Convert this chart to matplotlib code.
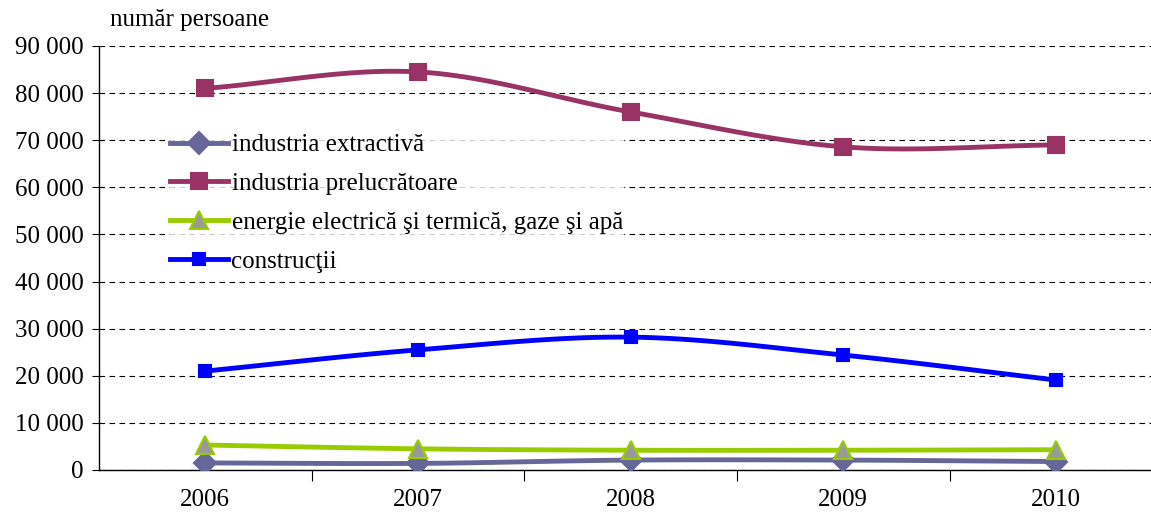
import numpy as np
import matplotlib
matplotlib.use("Agg")
import matplotlib.pyplot as plt
from matplotlib.ticker import FuncFormatter, FixedLocator

plt.rcParams['font.family'] = ['Liberation Serif', 'DejaVu Serif']

years = ['2006', '2007', '2008', '2009', '2010']
extractiva = [1500, 1400, 2100, 2100, 1800]
prelucratoare = [81000, 84500, 76000, 68600, 69000]
energie = [5300, 4500, 4200, 4200, 4300]
constructii = [21000, 25500, 28200, 24400, 19100]

labels = ['industria extractivă', 'industria prelucrătoare',
          'energie electrică şi termică, gaze şi apă', 'construcţii']


def smooth(x, y, n=30):
    # Catmull-Rom style smoothing (like Excel smoothed lines)
    x = np.asarray(x, float); y = np.asarray(y, float)
    px = np.concatenate([[2*x[0]-x[1]], x, [2*x[-1]-x[-2]]])
    py = np.concatenate([[2*y[0]-y[1]], y, [2*y[-1]-y[-2]]])
    xs, ys = [], []
    for i in range(1, len(px)-2):
        t = np.linspace(0, 1, n)
        for arr, out in ((px, xs), (py, ys)):
            p0, p1, p2, p3 = arr[i-1], arr[i], arr[i+1], arr[i+2]
            out.extend(0.5*((2*p1) + (-p0+p2)*t + (2*p0-5*p1+4*p2-p3)*t**2
                            + (-p0+3*p1-3*p2+p3)*t**3))
    return np.array(xs), np.array(ys)


fig = plt.figure(figsize=(11.51, 5.18), dpi=100)
ax = fig.add_axes([99/1151, 1-470/518, 1-99/1151, (470-46)/518])

x = np.arange(len(years))
series = [
    (extractiva, '#666699', 'D', '#666699', '#666699', 11),
    (prelucratoare, '#993366', 's', '#993366', '#993366', 12),
    (energie, '#99CC00', '^', '#999999', '#99CC00', 13),
    (constructii, '#0000FF', 's', '#0000FF', '#0000FF', 9),
]
for (vals, col, mk, mfc, mec, ms), lab in zip(series, labels):
    sx, sy = smooth(x, vals)
    ax.plot(sx, sy, color=col, lw=3.5, zorder=3, solid_capstyle='round')
    ax.plot(x, vals, ls='none', marker=mk, ms=ms, mfc=mfc, mec=mec, mew=1.5, zorder=4)
    ax.plot([], [], color=col, lw=3.5, marker=mk, ms=ms, mfc=mfc, mec=mec, mew=1.5, label=lab)

ax.set_xlim(-0.5, (1151-206)/212.5)
ax.set_ylim(0, 90000)
ax.set_yticks(np.arange(0, 90001, 10000))
ax.yaxis.set_major_formatter(FuncFormatter(lambda v, p: f"{int(v):,}".replace(',', ' ')))
ax.grid(axis='y', color='black', ls=(0, (5, 4)), lw=0.8, zorder=1)

ax.xaxis.set_major_locator(FixedLocator(x))
ax.xaxis.set_major_formatter(FuncFormatter(lambda v, p: years[int(round(v))] if 0 <= round(v) < len(years) else ''))
ax.xaxis.set_minor_locator(FixedLocator(x[:-1] + 0.5))
ax.tick_params(axis='x', which='major', length=0, pad=14, labelsize=18)
ax.tick_params(axis='x', which='minor', length=8, direction='out', width=0.8)
ax.tick_params(axis='y', length=5, direction='out', width=0.8, labelsize=18, pad=6)

for s in ['top', 'right']:
    ax.spines[s].set_visible(False)
for s in ['left', 'bottom']:
    ax.spines[s].set_color('black')
    ax.spines[s].set_linewidth(1)

leg = ax.legend(loc='upper left', bbox_to_anchor=((170-99)/1052, (470-134)/424), frameon=True,
                fontsize=18, handlelength=2.3, handletextpad=0.16, labelspacing=0.65,
                borderpad=0.0, borderaxespad=0.0, fancybox=False)
leg.get_frame().set_facecolor('white')
leg.get_frame().set_edgecolor('white')
leg.set_zorder(5)

fig.text(110/1151, 1-20/518, 'număr persoane', fontsize=18, va='center', ha='left')

fig.savefig('out.png', dpi=100, facecolor='white')
